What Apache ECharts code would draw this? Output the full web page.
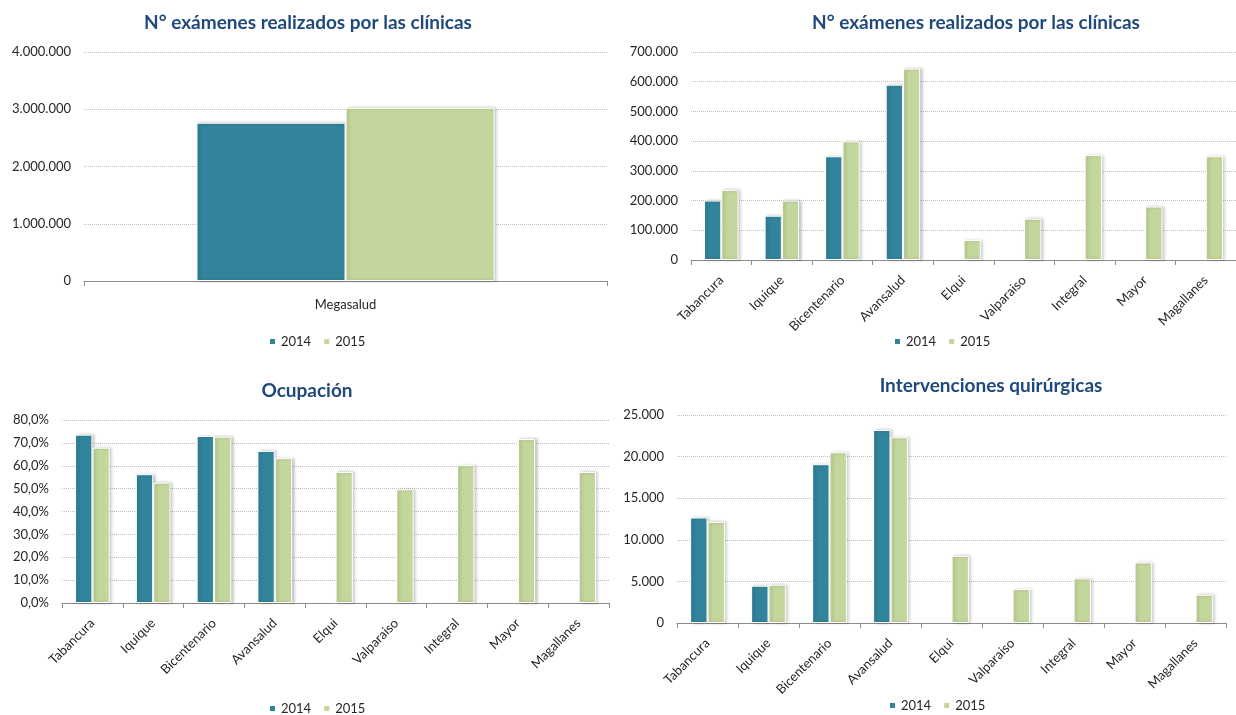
<!DOCTYPE html>
<html>
<head>
<meta charset="utf-8">
<script src="https://cdn.jsdelivr.net/npm/echarts@6/dist/echarts.min.js"></script>
<style>
html,body{margin:0;padding:0;background:#fff;}
#c{width:1236px;height:715px;}
</style>
</head>
<body>
<div id="c"></div>
<script>
// ---- data ----
const seriesNames = ['2014', '2015'];
const clinicas = ['Tabancura', 'Iquique', 'Bicentenario', 'Avansalud', 'Elqui', 'Valparaiso', 'Integral', 'Mayor', 'Magallanes'];

const megaCategories = ['Megasalud'];
const megaExam2014 = [2765000];
const megaExam2015 = [3026000];

const exam2014 = [200000, 149000, 349000, 590000, null, null, null, null, null];
const exam2015 = [236000, 200000, 399000, 644000, 67000, 139000, 353000, 180000, 349000];

const ocup2014 = [73.6, 56.3, 73.0, 66.5, null, null, null, null, null];
const ocup2015 = [67.9, 52.6, 72.7, 63.3, 57.3, 49.7, 60.3, 71.7, 57.3];

const interv2014 = [12680, 4480, 19080, 23200, null, null, null, null, null];
const interv2015 = [12160, 4600, 20520, 22320, 8080, 4080, 5360, 7280, 3400];

const titles = ['N° exámenes realizados por las clínicas', 'N° exámenes realizados por las clínicas', 'Ocupación', 'Intervenciones quirúrgicas'];

// ---- style ----
const FONT = 'Lato, "Open Sans", sans-serif';
const C14 = '#31849B';
const C15 = '#C3D69B';
const TXT = '#262626';
const TITLE = '#1F497D';

function thousands(v) {
  return String(v).replace(/\B(?=(\d{3})+(?!\d))/g, '.');
}
function pct(v) {
  return v.toFixed(1).replace('.', ',') + '%';
}

const grids = [
  {left: 84, top: 52, width: 523, height: 229},
  {left: 691, top: 52, width: 549, height: 208},
  {left: 62, top: 420, width: 547, height: 183},
  {left: 677, top: 415, width: 549, height: 208}
];

const titleCfg = [
  {x: 308, y: 13},
  {x: 976, y: 13},
  {x: 307, y: 381},
  {x: 991, y: 376}
];

const legendCfg = [
  {left: 268, top: 335},
  {left: 893, top: 335},
  {left: 268, top: 702},
  {left: 888, top: 699}
];

const yCfg = [
  {max: 4000000, interval: 1000000, fmt: thousands},
  {max: 700000, interval: 100000, fmt: thousands},
  {max: 80, interval: 10, fmt: pct},
  {max: 25000, interval: 5000, fmt: thousands}
];

const cats = [megaCategories, clinicas, clinicas, clinicas];
const data14 = [megaExam2014, exam2014, ocup2014, interv2014];
const data15 = [megaExam2015, exam2015, ocup2015, interv2015];

const option = {
  animation: false,
  backgroundColor: '#fff',
  textStyle: {fontFamily: FONT},
  title: titles.map((t, i) => ({
    text: t,
    left: titleCfg[i].x,
    top: titleCfg[i].y,
    textAlign: 'center',
    padding: 0,
    textStyle: {fontFamily: FONT, fontSize: 19, fontWeight: 'bold', color: TITLE}
  })),
  legend: legendCfg.map(l => ({
    data: seriesNames,
    left: l.left,
    top: l.top,
    padding: 0,
    icon: 'rect',
    itemWidth: 7,
    itemHeight: 7,
    itemGap: 11,
    textStyle: {fontFamily: FONT, fontSize: 13, color: TXT}
  })),
  grid: grids.map(g => Object.assign({containLabel: false}, g)),
  xAxis: cats.map((c, i) => ({
    type: 'category',
    gridIndex: i,
    data: c,
    axisLine: {show: true, lineStyle: {color: '#8C8C8C', width: 1}},
    axisTick: {show: true, alignWithLabel: false, length: 5, lineStyle: {color: '#8C8C8C'}},
    axisLabel: i === 0
      ? {fontFamily: FONT, fontSize: 13, color: TXT, margin: 17}
      : {fontFamily: FONT, fontSize: 13, color: TXT, rotate: 45, margin: 18, interval: 0},
    splitLine: {show: false}
  })),
  yAxis: yCfg.map((y, i) => ({
    type: 'value',
    gridIndex: i,
    min: 0,
    max: y.max,
    interval: y.interval,
    axisLine: {show: false},
    axisTick: {show: false},
    axisLabel: {fontFamily: FONT, fontSize: 13, color: TXT, margin: 13, formatter: y.fmt},
    splitLine: {show: true, lineStyle: {color: '#BFBFBF', type: [1, 1], width: 1}}
  })),
  series: []
};

for (let i = 0; i < 4; i++) {
  [[seriesNames[0], data14[i], C14], [seriesNames[1], data15[i], C15]].forEach(([name, d, col]) => {
    option.series.push({
      type: 'bar',
      name: name,
      xAxisIndex: i,
      yAxisIndex: i,
      data: d,
      barGap: '0%',
      barCategoryGap: '43%',
      itemStyle: {
        color: col,
        borderColor: '#ffffff',
        borderWidth: 1,
        shadowColor: 'rgba(0,0,0,0.22)',
        shadowBlur: 3,
        shadowOffsetX: 2,
        shadowOffsetY: 0
      }
    });
  });
}

const chart = echarts.init(document.getElementById('c'), null, {renderer: 'canvas'});
chart.setOption(option);
</script>
</body>
</html>
